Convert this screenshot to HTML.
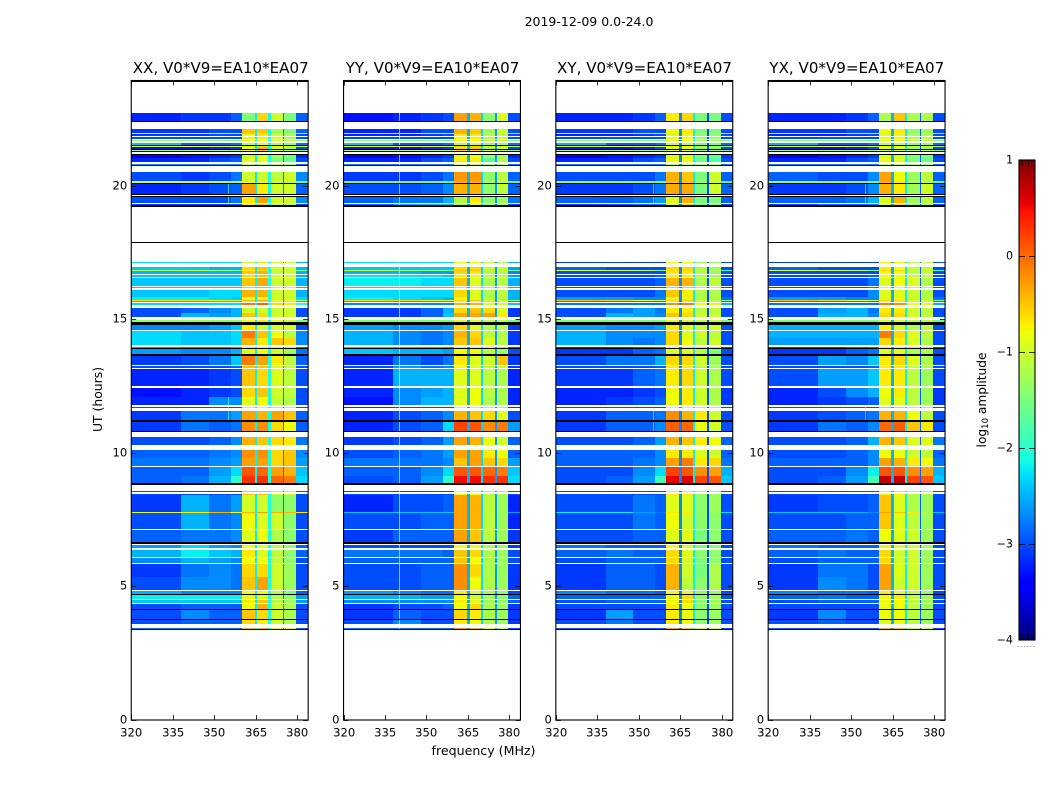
<!DOCTYPE html>
<html>
<head>
<meta charset="utf-8">
<title>2019-12-09 0.0-24.0</title>
<style>
html,body{margin:0;padding:0;background:#fff;}
svg{display:block;}
text{font-family:"DejaVu Sans","Liberation Sans",sans-serif;fill:#000;}
</style>
</head>
<body>
<svg id="fig" xmlns="http://www.w3.org/2000/svg" width="1050" height="800" viewBox="0 0 1050 800">
  <rect x="0" y="0" width="1050" height="800" fill="#fff"/>
  <text x="589" y="26" text-anchor="middle" font-size="12.5">2019-12-09 0.0-24.0</text>
  <text x="220.7" y="73" text-anchor="middle" font-size="15.1">XX, V0*V9=EA10*EA07</text>
  <text x="432.5" y="73" text-anchor="middle" font-size="15.1">YY, V0*V9=EA10*EA07</text>
  <text x="644.5" y="73" text-anchor="middle" font-size="15.1">XY, V0*V9=EA10*EA07</text>
  <text x="856.8" y="73" text-anchor="middle" font-size="15.1">YX, V0*V9=EA10*EA07</text>
  <text x="483.5" y="755" text-anchor="middle" font-size="12.6">frequency (MHz)</text>
  <text transform="translate(102,399.5) rotate(-90)" text-anchor="middle" font-size="12.4">UT (hours)</text>
  <text transform="translate(986,400) rotate(-90)" text-anchor="middle" font-size="12.2">log<tspan font-size="8.5" dy="2">10</tspan><tspan dy="-2"> amplitude</tspan></text>
  <defs>
    <linearGradient id="jetGrad" x1="0" y1="1" x2="0" y2="0"></linearGradient>
  </defs>
  <g id="panels"></g>
  <g id="cbar"></g>
</svg>
<script>
const xTickLabels = [320, 335, 350, 365, 380];
const yTickLabels = [0, 5, 10, 15, 20];
const colorbarTicks = [1, 0, -1, -2, -3, -4];
const freqEdges = [320, 338, 348, 356, 360, 364.6, 365.6, 369.6, 370.4, 374.8, 375.4, 379.6, 384];
const rowTopUT = [22.72,22.12,21.97,21.93,21.82,21.70,21.59,21.48,21.44,21.33,21.14,21.03,20.82,20.52,20.15,20.06,19.59,19.31,
17.15,16.95,16.84,16.80,16.65,16.54,16.20,16.10,15.82,15.73,15.67,15.60,15.41,15.22,14.96,14.78,14.55,14.29,13.97,13.61,13.24,13.13,12.43,12.08,11.72,11.55,11.16,10.58,10.09,9.79,9.44,9.12,8.56,8.46,8.41,7.77,7.73,7.08,6.52,6.35,6.05,5.82,5.34,4.81,4.66,4.46,4.33,4.10,3.73,3.43];
const rowBottomUT = [22.42,21.97,21.93,21.85,21.74,21.67,21.52,21.44,21.33,21.29,21.03,20.88,20.77,20.15,20.09,19.68,19.34,19.27,
17.08,16.84,16.80,16.69,16.57,16.24,16.16,15.82,15.73,15.67,15.64,15.54,15.22,15.07,14.87,14.59,14.29,14.03,13.69,13.28,13.16,12.49,12.08,11.78,11.69,11.22,10.81,10.28,9.79,9.49,9.12,8.86,8.52,8.42,7.77,7.73,7.13,6.65,6.42,6.09,5.86,5.34,4.85,4.70,4.51,4.36,4.14,3.76,3.58,3.39];
const blackLines = [[23.94,23.87],[22.42,22.36],[21.52,21.48],[21.37,21.33],[21.29,21.25],[21.18,21.14],[20.77,20.73],[20.09,20.06],[19.68,19.64],[19.62,19.59],[19.27,19.19],[17.88,17.85],[14.87,14.78],[13.91,13.87],[13.69,13.61],[11.22,11.16],[10.81,10.77],[8.86,8.78],[6.65,6.59],[4.70,4.66],[4.14,4.10],[3.76,3.73],[3.39,3.35]];
const gapLevelsXX = [-2.2,-2.1,-2.8];
const gapLevelsYY = [-2.5,-2.3,-2.6];
const gapLevelsXY = [-2.7,-2.2,-3];
const gapLevelsYX = [-2.5,-2.2,-2.9];
const verticalLines = [[1,340,-0.9,3.39,22.72],[0,355,-1.8,19.3,20.5],[0,355,-2,11.2,12.2],[2,355,-1.9,19.3,20.5],[2,355,-2,10.8,11.6],[3,355,-1.9,19.3,20.5],[3,355,-2.2,11.2,12]];
const levelsXX = [
[-3.2,-3.1,-3.1,-2.9,-1.5,-.6,-1,-1.5,-2.9],
[-3.1,-3.1,-3,-3,-.5,-.5,-1.3,-1.5,-2.9],
[-.8,-.8,-.9,-1,-.5,-.6,-1,-1.2,-1.4],
[-3.1,-3.1,-3,-3,-.8,-.7,-1,-1.2,-3],
[-3,-3,-3,-3,-.9,-.7,-1,-1.3,-3],
[-1.3,-1.4,-1.4,-1.5,-.9,-.8,-1,-1.1,-1.4],
[-2.4,-2.9,-2.9,-2.8,-1.2,-.9,-1.2,-1.4,-2.8],
[-1,-.9,-1,-1,-.9,-.6,-.8,-1,-1.2],
[-3.3,-3.3,-3.2,-3.1,-.8,-.4,-1,-1.3,-3],
[-1.2,-1.2,-1.3,-1.3,-.8,-.5,-1,-1.1,-1.4],
[-3.4,-3.3,-3.2,-3.1,-1.1,-.9,-1.2,-1.5,-3.2],
[-3.2,-3.2,-3,-2.9,-.9,-.9,-1.5,-1.6,-3],
[-2.6,-2.6,-2.6,-2.6,-1,-1,-1,-1.2,-2.8],
[-3,-3.1,-3,-2.8,-1,-1,-1.1,-1,-2.7],
[-.9,-.9,-1,-1.2,-.9,-.8,-.9,-1,-1.6],
[-3.2,-3.1,-3,-2.9,-.3,-.7,-1,-1,-2.9],
[-3,-3,-3,-2.8,-.7,-.3,-1,-1,-2.7],
[-3,-3,-3,-2.9,-.7,-.5,-1.1,-1.2,-3],
[-2.3,-2.3,-2.3,-2.3,-1,-.7,-1,-1,-2.5],
[-2.4,-2.4,-2.5,-2.5,-.6,-.5,-1,-1,-2.5],
[-1.2,-1.1,-1.3,-1.6,-.7,-.6,-1,-1,-1.6],
[-2.5,-2.5,-2.5,-2.5,-.5,-.4,-1.1,-1,-2.5],
[-2.4,-2.4,-2.4,-2.4,-.6,-.5,-1,-1,-2.5],
[-2.4,-2.4,-2.4,-2.4,-.5,-.35,-1,-1,-2.5],
[-2.4,-2.4,-2.4,-2.4,-.5,-.4,-1,-1,-2.5],
[-2.4,-2.4,-2.3,-2.3,-.4,-.4,-1,-1,-2.5],
[-2.2,-2.2,-2.3,-2.4,-.9,-.8,-1,-1,-2.3],
[-.6,-.6,-.8,-.9,-.4,-.3,-.8,-.9,-1.3],
[-2.4,-2.4,-2.4,-2.4,-.8,-.7,-1,-1,-2.5],
[-2.3,-2.3,-2.3,-2.3,-.1,0,-.6,-.7,-2],
[-3,-2.9,-2.7,-2.5,-1,-1,-1,-1,-3],
[-3,-2.5,-2.6,-2.5,-.5,-.6,-1,-1,-3],
[-1.4,-1.4,-1.4,-1.4,-.8,-.7,-.9,-1,-1.5],
[-2.7,-2.7,-2.6,-2.4,-.7,-1,-1,-1,-3],
[-2.3,-2.4,-2.4,-2.3,-.1,-.5,-.8,-1.1,-2.7],
[-2.3,-2.4,-2.4,-2.3,-.4,-.7,-.5,-.6,-2.7],
[-2.6,-2.7,-2.7,-2.5,-.9,-.8,-1,-1.3,-2.8],
[-3.1,-3,-2.8,-2.4,-.1,-.3,-.7,-1.1,-2.9],
[-3,-3,-3,-2.9,-.5,-.5,-1,-1.1,-3],
[-3.2,-3.2,-3.1,-3,-.5,-.6,-.9,-1.1,-3],
[-3.3,-3.2,-3.1,-3,-.6,-.5,-1,-1.1,-3],
[-3.2,-3.2,-2.7,-2.7,-.9,-.8,-1.1,-1.2,-3],
[-3,-3,-3,-3,-.9,-.8,-1.1,-1.2,-3],
[-3.1,-2.8,-2.8,-2.6,-.3,-.4,-.3,-.5,-2.9],
[-3.1,-2.8,-2.9,-2.8,-.2,-.2,-.6,-.8,-2.9],
[-3,-3,-2.9,-2.7,-.4,-.5,-.6,-.7,-2.8],
[-2.9,-2.9,-2.8,-2.7,-.2,-.2,-.6,-.5,-2.7],
[-2.8,-2.8,-2.7,-2.6,-.3,-.3,-.6,-.5,-2.6],
[-2.9,-2.9,-2.6,-2.3,.1,0,-.3,-.4,-2.4],
[-2.9,-2.8,-2.5,-2,.3,.3,0,-.1,-2.3],
[-3,-3,-3,-3,-.5,-.5,-1,-1,-3],
[-3,-3,-3,-3,-.5,-.5,-1,-1,-3],
[-3.1,-2.5,-2.8,-2.6,-1,-1,-1.4,-1.4,-3],
[-.9,-.7,-.4,-.8,-.4,-.3,-.4,-.4,-.7],
[-3,-2.5,-2.8,-2.7,-.8,-.9,-1,-1.4,-3],
[-2.9,-2.8,-2.8,-2.7,-.9,-.8,-1.2,-1.4,-3],
[-2.6,-2.3,-2.6,-2.7,-.8,-.9,-1.1,-1.3,-2.9],
[-2.5,-2.2,-2.4,-2.5,-.7,-.9,-1.1,-1.4,-2.9],
[-2.7,-2.5,-2.6,-2.7,-.8,-.8,-1.1,-1.4,-3],
[-3.1,-2.8,-2.7,-2.8,-.6,-.6,-1,-1.3,-3],
[-3,-2.7,-2.7,-2.8,-.5,-.3,-1,-1.3,-3],
[-2.5,-2.7,-2.7,-2.7,-.8,-.8,-1.2,-1.5,-2.9],
[-2.2,-2.2,-2.2,-2.2,-.9,-.9,-1.2,-1.4,-2.6],
[-2.4,-2.4,-2.4,-2.4,-.7,-.5,-1.2,-1.3,-2.6],
[-3,-2.9,-2.9,-2.9,-.8,-.4,-1,-1.2,-3],
[-3,-2.7,-2.9,-2.9,-.5,-.6,-1,-1.2,-3],
[-3,-2.9,-2.9,-2.9,-.6,-.7,-1,-1.2,-3],
[-2.8,-2.8,-2.8,-2.8,-.4,-.4,-.7,-.8,-2.9]
];
const levelsYY = [
[-3.3,-3.2,-3.1,-3,-.3,-.4,-1.4,-.9,-3],
[-3.2,-3.2,-3,-3,-.4,-.5,-1.3,-1,-3],
[-.7,-.8,-.9,-1.1,-.4,-.5,-.9,-1,-1.5],
[-3.2,-3.2,-3.1,-3,-.7,-.7,-1.2,-1.1,-3],
[-3,-3,-3,-3,-.8,-.7,-1.2,-1.1,-3],
[-1.4,-1.5,-1.5,-1.6,-.8,-.8,-1,-1,-1.5],
[-2.4,-2.9,-2.9,-2.8,-1.1,-.9,-1.5,-1.3,-2.8],
[-.8,-.8,-.9,-1,-.6,-.6,-.9,-.9,-1.2],
[-3.3,-3.3,-3.2,-3.1,-.6,-.5,-1.2,-1,-3],
[-1.1,-1.1,-1.2,-1.3,-.6,-.6,-1,-1,-1.4],
[-3.4,-3.3,-3.2,-3.1,-.9,-.8,-1.3,-1.2,-3.2],
[-3.2,-3.2,-3,-2.9,-.7,-.7,-1.7,-1.2,-3],
[-2.7,-2.7,-2.7,-2.7,-.9,-.9,-1.2,-1.1,-2.8],
[-3.1,-3.1,-3,-2.8,-.25,-.25,-1.4,-1.1,-2.9],
[-1.5,-1.5,-1.6,-1.7,-.4,-.4,-1.1,-1,-1.8],
[-3,-3,-2.9,-2.7,-.4,-.4,-1.4,-1.1,-2.9],
[-2.9,-2.8,-2.8,-2.5,-1.2,-.7,-1.4,-1.3,-2.8],
[-2.8,-2.5,-2.4,-2.4,-1.2,-.9,-1.4,-1.3,-3],
[-2.3,-2.3,-2.3,-2.3,-.8,-.8,-1.1,-1.2,-2.5],
[-2.4,-2.4,-2.4,-2.4,-.6,-.6,-1.1,-1.1,-2.6],
[-1.1,-1.3,-1.4,-1.6,-.5,-.5,-1,-1,-1.6],
[-2.5,-2.5,-2.6,-2.6,-.6,-.7,-1.2,-1.2,-2.7],
[-2.3,-2.3,-2.3,-2.4,-.7,-.9,-1.2,-1.2,-2.6],
[-2.2,-2.2,-2.3,-2.3,-.5,-.9,-1.2,-1.1,-2.5],
[-2.3,-2.3,-2.3,-2.3,-.6,-.9,-1.2,-1.1,-2.5],
[-2.3,-2.3,-2.3,-2.3,-.6,-.9,-1.2,-1.1,-2.5],
[-2.2,-2.3,-2.4,-2.5,-.8,-.9,-1.2,-1.2,-2.5],
[-.6,-.6,-.8,-.9,-.6,-.5,-.9,-1,-1.3],
[-2.5,-2.6,-2.6,-2.6,-.7,-.8,-1.2,-1.2,-2.7],
[-2.7,-2.7,-2.7,-2.7,-.4,-.4,-.9,-1,-2.4],
[-3.1,-3.1,-2.9,-2.5,-.6,-.5,-.6,-.9,-3.1],
[-3.1,-3.1,-2.9,-2.4,-.3,-.3,-.3,-.7,-3.1],
[-1.5,-1.5,-1.5,-1.5,-.9,-.9,-1.1,-1.1,-1.6],
[-2.6,-2.7,-2.7,-2.6,-.6,-.9,-1.2,-1.2,-3.1],
[-2.5,-2.7,-2.8,-2.7,-.4,-.6,-1.1,-1.2,-3.1],
[-2.5,-2.7,-2.8,-2.7,-.5,-.5,-.9,-1.1,-3.1],
[-2.4,-2.5,-2.5,-2.6,-.8,-.8,-1.1,-1.3,-3],
[-3.2,-2.8,-3,-2.8,-.7,-.9,-1,-.5,-3.1],
[-3,-2.6,-2.8,-2.7,-.8,-.9,-1.1,-1.1,-3.1],
[-3.2,-2.5,-2.5,-2.5,-.9,-.9,-1.1,-1.2,-3.2],
[-3.2,-2.7,-2.6,-2.5,-.9,-.8,-1.1,-1.2,-3.2],
[-3.3,-2.7,-2.5,-2.5,-.9,-.8,-1.2,-1.2,-3.2],
[-3.1,-3,-3,-3,-.9,-.9,-1.2,-1.2,-3.1],
[-3.2,-3,-2.9,-2.7,-.4,-.5,-.6,-.9,-3],
[-3.2,-3,-2.9,-2.3,.2,.1,-.2,-.1,-2.6],
[-3.1,-3,-2.9,-2.6,-.3,-.4,-.8,-1,-2.9],
[-3,-2.9,-2.8,-2.6,-.3,-.3,-.7,-.8,-2.9],
[-2.8,-2.8,-2.8,-2.7,-.5,-.3,-.5,-.6,-2.6],
[-2.9,-2.9,-2.7,-2.3,.1,.1,0,-.1,-2.4],
[-3,-2.9,-2.6,-2,.5,.5,.3,.3,-2.3],
[-3,-3,-3,-3,-.8,-.8,-1.2,-1.2,-3],
[-3,-3,-3,-3,-.8,-.8,-1.2,-1.2,-3],
[-3.2,-3,-3,-2.9,-.3,-.4,-1.1,-1.3,-3.2],
[-2.4,-2.4,-2.4,-2.4,-.3,-.4,-1.1,-1.3,-2.6],
[-3,-3,-2.9,-2.9,-.3,-.4,-1.1,-1.3,-3.2],
[-3.1,-2.9,-2.9,-2.9,-.3,-.5,-1.1,-1.3,-3.1],
[-3,-3,-3,-3,-.8,-.8,-1.2,-1.3,-3.1],
[-2.8,-2.8,-2.8,-2.9,-.5,-.6,-1.2,-1.3,-3],
[-2.9,-2.9,-2.9,-2.9,-.5,-.8,-1.2,-1.3,-3],
[-3,-3,-2.9,-2.9,-.2,-.6,-1.2,-1.3,-3.1],
[-3,-3,-2.9,-2.9,-.2,-.8,-1.2,-1.3,-3.1],
[-2.6,-2.7,-2.8,-2.8,-.7,-1,-1.3,-1.4,-3],
[-2.5,-2.5,-2.6,-2.6,-.8,-1,-1.3,-1.4,-2.9],
[-2.7,-2.7,-2.7,-2.7,-.7,-.9,-1.3,-1.4,-2.9],
[-3.1,-3,-3,-2.9,-.8,-.6,-1.2,-1.3,-3.1],
[-3.1,-2.9,-3,-3,-.6,-.7,-1.2,-1.3,-3.1],
[-3,-2.7,-3,-3,-.7,-.8,-1.2,-1.3,-3.1],
[-2.8,-2.8,-2.8,-2.8,-.2,-.4,-.8,-1,-3]
];
const levelsXY = [
[-3.2,-3.2,-3.1,-2.9,-.7,-.6,-1.5,-1.5,-3],
[-3.1,-3.1,-3,-3,-.8,-.7,-1.5,-1.5,-3],
[-.8,-.8,-.9,-1,-.7,-.7,-1.2,-1.3,-1.4],
[-3.2,-3.2,-3.1,-3,-.9,-.8,-1.4,-1.4,-3],
[-3,-3,-3,-3,-.9,-.8,-1.4,-1.4,-3],
[-1.4,-1.5,-1.5,-1.6,-.9,-.9,-1.3,-1.3,-1.5],
[-2.5,-2.9,-2.9,-2.8,-1,-1,-1.5,-1.5,-2.8],
[-1,-.9,-1,-1,-.8,-.8,-1.2,-1.3,-1.3],
[-3.3,-3.3,-3.2,-3,-.9,-.8,-1.4,-1.5,-3],
[-1.2,-1.2,-1.3,-1.3,-.9,-.8,-1.3,-1.3,-1.5],
[-3.4,-3.3,-3.2,-3.1,-1,-1,-1.5,-1.6,-3.1],
[-3.2,-3.2,-3,-2.9,-.8,-.8,-1.6,-1.8,-3],
[-2.7,-2.7,-2.7,-2.7,-1,-1,-1.2,-1.2,-2.8],
[-3,-3,-3,-2.8,-.4,-.5,-1.5,-1,-2.9],
[-1.3,-1.3,-1.4,-1.5,-.5,-.5,-1.2,-1,-1.8],
[-3.1,-3.1,-3,-2.8,-.35,-.35,-1.5,-1,-2.9],
[-2.9,-2.9,-2.8,-2.6,-.9,-.4,-1.5,-1.5,-2.9],
[-3,-2.9,-2.8,-2.8,-1,-.6,-1.5,-1.4,-3],
[-3.1,-3.1,-3.1,-3.1,-.8,-.8,-1.3,-1.3,-3],
[-2.9,-3,-3,-3,-.6,-.6,-1.2,-1.3,-3],
[-1,-1,-1.2,-1.5,-.6,-.6,-1.1,-1.2,-1.8],
[-3,-3,-3,-3,-.7,-.7,-1.2,-1.3,-3],
[-3,-3,-3,-2.9,-.7,-.7,-1.2,-1.3,-3],
[-3,-3,-3,-2.9,-.4,-.4,-1.2,-1.1,-3],
[-3,-3,-3,-2.9,-.5,-.5,-1.2,-1.2,-3],
[-3,-3,-3,-2.8,-.5,-.7,-1.2,-1.2,-3],
[-2.6,-2.6,-2.7,-2.7,-.9,-.9,-1.2,-1.2,-2.8],
[-.5,-.6,-.8,-1,-.6,-.5,-1,-1.1,-1.5],
[-2.8,-2.8,-2.8,-2.8,-.9,-.9,-1.2,-1.2,-2.8],
[-2.8,-2.8,-2.8,-2.8,-.2,-.1,-.8,-.9,-2.5],
[-3,-2.8,-2.6,-2.8,-.7,-.7,-1.1,-1.1,-3],
[-3,-2.5,-2.6,-2.7,-.5,-.6,-1,-1,-3],
[-1.5,-1.5,-1.5,-1.5,-.9,-.9,-1.1,-1.1,-1.6],
[-2.6,-2.7,-2.7,-2.6,-.7,-.9,-1.1,-1,-3],
[-2.5,-2.7,-2.7,-2.7,-.6,-.9,-1,-1.1,-3],
[-2.5,-2.7,-2.8,-2.7,-.6,-.8,-1.1,-1,-3],
[-3.1,-3.1,-2.9,-2.8,-.9,-.9,-1.2,-1.5,-3],
[-3,-2.8,-2.8,-2.5,-.6,-.6,-1,-1.3,-3],
[-3,-3,-3,-2.9,-.7,-.7,-1.2,-1.3,-3],
[-3.1,-3.1,-2.9,-2.8,-.7,-.6,-1,-1.2,-3],
[-3.2,-3.2,-3.1,-3,-.8,-.7,-1,-1.2,-3.1],
[-3.2,-3.1,-3,-2.9,-.8,-.7,-1,-1.2,-3.1],
[-3,-3,-3,-3,-.8,-.8,-1.1,-1.2,-3],
[-3.1,-2.9,-2.9,-2.8,-.2,-.4,-.7,-1,-3],
[-3.1,-2.9,-2.9,-2.7,.05,0,-.8,-1,-3],
[-3,-3,-2.9,-2.6,-.4,-.5,-.7,-.8,-2.9],
[-2.9,-2.9,-2.9,-2.7,-.7,-.7,-.9,-1,-2.9],
[-2.9,-2.9,-2.8,-2.7,-.3,-.1,-.7,-.6,-2.8],
[-3,-3,-2.7,-2.3,.2,.1,-.2,-.3,-2.5],
[-3,-2.9,-2.6,-1.9,.55,.6,.2,.1,-2.4],
[-3,-3,-3,-3,-.7,-.7,-1.3,-1.3,-3],
[-3,-3,-3,-3,-.7,-.7,-1.3,-1.3,-3],
[-3,-3,-2.8,-2.9,-.9,-.9,-1.4,-1.3,-3],
[-2.2,-2.2,-2.6,-2.8,-.7,-.7,-1.4,-1.3,-2.3],
[-3,-3,-2.8,-2.9,-.8,-1,-1.4,-1.4,-3],
[-3,-3,-2.9,-2.9,-.9,-.9,-1.5,-1.4,-3],
[-2.8,-2.9,-2.9,-2.9,-.8,-.9,-1.5,-1.4,-3],
[-2.9,-2.8,-2.9,-2.9,-.6,-.9,-1.4,-1.4,-3],
[-3,-2.9,-2.9,-2.9,-.6,-1,-1.5,-1.4,-3],
[-3.1,-2.9,-2.9,-3,-.4,-1,-1.5,-1.2,-3],
[-3.1,-2.9,-2.9,-3,-.4,-1.1,-1.4,-1.2,-3],
[-2.7,-2.8,-2.8,-2.9,-.8,-.9,-1.4,-1.4,-3],
[-2.9,-2.9,-2.9,-2.9,-.8,-.6,-1.4,-1.3,-3],
[-3,-2.9,-2.9,-2.9,-.8,-.6,-1.4,-1.3,-3],
[-3,-3,-3,-3,-.7,-.8,-1.4,-1.3,-3],
[-3.1,-2.6,-3,-3,-.7,-.8,-1.4,-1.3,-3],
[-3,-2.8,-3,-3,-.7,-.8,-1.4,-1.3,-3],
[-2.9,-2.9,-2.9,-2.9,-.3,-.5,-1,-1,-3]
];
const levelsYX = [
[-3.2,-3.2,-3.1,-2.9,-1.2,-.5,-1.2,-1.2,-3],
[-3.1,-3.1,-3,-3,-.8,-.7,-1.4,-1.3,-3],
[-.8,-.8,-.9,-1,-.7,-.7,-1.1,-1.1,-1.4],
[-3.2,-3.2,-3.1,-3,-.9,-.8,-1.2,-1.2,-3],
[-3,-3,-3,-3,-.9,-.8,-1.2,-1.2,-3],
[-1.4,-1.5,-1.5,-1.6,-.9,-.9,-1.1,-1.1,-1.5],
[-2.5,-2.9,-2.9,-2.8,-1.1,-1.1,-1.4,-1.3,-2.8],
[-1,-.9,-1,-1,-.8,-.8,-1.1,-1.1,-1.3],
[-3.3,-3.3,-3.2,-3,-.9,-.9,-1.3,-1.3,-3],
[-1.2,-1.2,-1.3,-1.3,-.9,-.9,-1.1,-1.1,-1.5],
[-3.4,-3.3,-3.2,-3.1,-1,-1,-1.4,-1.5,-3.1],
[-3.2,-3.2,-3,-2.9,-.8,-.9,-1.5,-1.6,-3],
[-2.7,-2.7,-2.7,-2.7,-1,-1,-1.2,-1.2,-2.8],
[-2.9,-3,-3,-2.7,-.3,-.8,-1.3,-1.1,-2.9],
[-1.3,-1.3,-1.4,-1.6,-.4,-.7,-1.2,-1.1,-1.8],
[-3.1,-3.1,-3,-2.7,-.4,-.7,-1.3,-1,-2.9],
[-2.9,-2.9,-2.8,-2.5,-.9,-.4,-1.3,-1.1,-2.9],
[-3,-2.8,-2.8,-2.7,-1,-.6,-1.3,-1.2,-3],
[-3.1,-3.1,-3.1,-3.1,-.7,-.7,-1.1,-1.1,-3],
[-2.9,-3,-3,-3,-.7,-.8,-1.1,-1.1,-3],
[-1,-1,-1.2,-1.5,-.6,-.6,-1,-1,-1.8],
[-3,-3,-3,-3,-.8,-.8,-1.1,-1.1,-3],
[-3,-3,-3,-2.9,-.8,-.8,-1.1,-1.1,-3],
[-3,-3,-3,-2.8,-.9,-.8,-.9,-1.2,-3],
[-3,-3,-3,-2.8,-.9,-.8,-1.1,-1.1,-3],
[-3,-3,-3,-2.7,-.9,-.9,-1,-1.2,-3],
[-2.6,-2.6,-2.7,-2.7,-.9,-.9,-1.1,-1.1,-2.8],
[-.5,-.6,-.8,-1,-.6,-.6,-.9,-1,-1.5],
[-2.8,-2.8,-2.8,-2.8,-.9,-.9,-1.1,-1.1,-2.8],
[-2.8,-2.8,-2.8,-2.8,-.1,-.2,-.8,-.9,-2.5],
[-3,-2.6,-2.5,-2.8,-.7,-.7,-1,-1.1,-3],
[-3,-2.5,-2.5,-2.7,-.6,-.6,-.9,-1.1,-3],
[-1.5,-1.5,-1.5,-1.5,-.9,-.9,-1.1,-1.1,-1.6],
[-2.5,-2.5,-2.5,-2.5,-.7,-1,-1.2,-1.1,-3],
[-2.5,-2.5,-2.5,-2.5,-.1,-.6,-.9,-1.1,-3],
[-2.6,-2.6,-2.6,-2.6,-.6,-.7,-.9,-1.2,-3],
[-3.1,-3.1,-2.9,-2.8,-.9,-.9,-1.2,-1.2,-3],
[-3,-2.6,-2.7,-2.4,-.7,-.6,-.9,-1.2,-3],
[-3,-3,-3,-2.9,-.7,-.7,-1.1,-1.2,-3],
[-3,-2.6,-2.6,-2.4,-.7,-.7,-1.1,-1.3,-3],
[-3.2,-3,-2.7,-2.5,-.8,-.7,-1.1,-1.3,-3.1],
[-3.2,-3.1,-3,-2.9,-.9,-.9,-1.1,-1.3,-3.1],
[-3,-3,-3,-3,-.5,-.6,-1.1,-1.2,-3],
[-3.1,-3,-2.9,-2.8,-.4,-.4,-.8,-1.1,-3],
[-3.1,-2.8,-2.9,-2.7,0,.05,-.5,-.7,-3],
[-3,-3,-2.9,-2.5,-.4,-.5,-.9,-.9,-2.8],
[-3,-3,-2.9,-2.7,-.8,-.8,-1,-1.1,-2.9],
[-2.9,-2.9,-2.9,-2.7,-.3,-.4,-.7,-.8,-2.8],
[-3,-3,-2.7,-2.2,.1,.1,-.2,-.3,-2.5],
[-3,-2.9,-2.6,-1.9,.7,.7,.2,.1,-2.4],
[-3,-3,-3,-3,-.7,-.7,-1.1,-1.2,-3],
[-3,-3,-3,-3,-.7,-.7,-1.1,-1.2,-3],
[-3.1,-3,-3,-2.9,-.5,-.9,-1.2,-1.3,-3],
[-2.4,-2.4,-2.5,-2.7,-.3,-.5,-.7,-1.2,-2.4],
[-3,-3,-2.9,-2.9,-.5,-.9,-1.1,-1.3,-3],
[-2.9,-2.9,-2.8,-2.9,-.8,-.9,-1,-1.3,-3],
[-2.8,-2.9,-2.9,-2.9,-.7,-.9,-1,-1.3,-3],
[-2.9,-2.8,-2.9,-2.9,-.6,-1,-1,-1.3,-3],
[-3,-2.9,-2.9,-2.9,-.6,-1,-1,-1.3,-3],
[-3.1,-2.8,-2.8,-3,-.3,-.9,-1,-1.3,-3],
[-3.1,-2.7,-2.8,-3,-.3,-1,-1,-1.3,-3],
[-2.7,-2.8,-2.8,-2.9,-.7,-.9,-1.1,-1.4,-3],
[-2.9,-2.8,-2.9,-2.9,-.8,-.7,-1.1,-1.3,-3],
[-3,-2.9,-2.9,-2.9,-.8,-.8,-1.1,-1.3,-3],
[-3,-3,-3,-3,-.8,-.8,-1.1,-1.3,-3],
[-3.1,-2.7,-3,-3,-.8,-.8,-1.1,-1.3,-3],
[-3,-2.9,-3,-3,-.9,-.8,-1.1,-1.3,-3],
[-2.9,-2.9,-2.9,-2.9,-.4,-.5,-1,-1,-3]
];
const panelKeys = ['xx', 'yy', 'xy', 'yx'];
const panelLevels = [levelsXX, levelsYY, levelsXY, levelsYX];
const panelGaps = [gapLevelsXX, gapLevelsYY, gapLevelsXY, gapLevelsYX];

const SVGNS = 'http://www.w3.org/2000/svg';
const AX_W = 176.9, AX_STEP = 212.3, AX_LEFT = 131.25;
const AX_TOP = 80.5, AX_BOTTOM = 720;
function sxOf(p) { const x0 = AX_LEFT + p * AX_STEP; return f => x0 + (f - 320) * AX_W / 64; }
function sy(ut) { return 719.5 - ut * 26.7; }
function cbY(v) { return 640 - (v + 4) * 96; }
function lerp(stops, t) {
  for (let i = 1; i < stops.length; i++) {
    if (t <= stops[i][0]) {
      const a = stops[i - 1], b = stops[i];
      return a[1] + (b[1] - a[1]) * (t - a[0]) / (b[0] - a[0]);
    }
  }
  return stops[stops.length - 1][1];
}
function jet(t) {
  t = Math.max(0, Math.min(1, t));
  const r = lerp([[0,0],[.35,0],[.66,1],[.89,1],[1,.5]], t);
  const g = lerp([[0,0],[.125,0],[.375,1],[.64,1],[.91,0],[1,0]], t);
  const b = lerp([[0,.5],[.11,1],[.34,1],[.65,0],[1,0]], t);
  return 'rgb(' + Math.round(r*255) + ',' + Math.round(g*255) + ',' + Math.round(b*255) + ')';
}
function levelColor(v) { return jet((v + 4) / 5); }
function mk(tag, attrs, parent) {
  const el = document.createElementNS(SVGNS, tag);
  for (const k in attrs) el.setAttribute(k, attrs[k]);
  parent.appendChild(el);
  return el;
}

const panelsG = document.getElementById('panels');
panelKeys.forEach(function (key, p) {
  const sx = sxOf(p);
  const g = mk('g', {}, panelsG);
  
  
  const levels = panelLevels[p];
  const gaps = panelGaps[p];
  rowTopUT.forEach(function (top, r) {
    const vals = levels[r];
    const full = [vals[0], vals[1], vals[2], vals[3], vals[4], gaps[0], vals[5], gaps[1], vals[6], gaps[2], vals[7], vals[8]];
    const y0 = Math.round(sy(top));
    const y1 = Math.max(y0 + 1, Math.round(sy(rowBottomUT[r])));
    full.forEach(function (v, c) {
      const x0 = Math.round(sx(freqEdges[c]));
      const x1 = Math.round(sx(freqEdges[c + 1]));
      const cell = mk('rect', {x: x0, y: y0, width: x1 - x0, height: y1 - y0, fill: levelColor(v), 'shape-rendering': 'crispEdges'}, g);
      
      
    });
  });
  verticalLines.forEach(function (line) {
    if (line[0] !== p) return;
    const x = Math.round(sx(line[1]));
    rowTopUT.forEach(function (top, r) {
      const bottom = rowBottomUT[r];
      if (top > line[4] || bottom < line[3]) return;
      const y0 = Math.round(sy(top));
      const y1 = Math.max(y0 + 1, Math.round(sy(bottom)));
      const seg = mk('rect', {x: x, y: y0, width: 1, height: y1 - y0, fill: levelColor(line[2]), opacity: 0.75, 'shape-rendering': 'crispEdges'}, g);
      
      
    });
  });
  const xa = sx(320), xb = sx(384);
  blackLines.forEach(function (bl) {
    const y0 = Math.round(sy(bl[0]));
    const y1 = Math.max(y0 + 1, Math.round(sy(bl[1])));
    const line = mk('rect', {x: Math.round(xa), y: y0, width: Math.round(xb) - Math.round(xa), height: y1 - y0, fill: '#000', 'shape-rendering': 'crispEdges'}, g);
    
    
  });
  const frame = mk('rect', {x: xa, y: AX_TOP, width: AX_W, height: AX_BOTTOM - AX_TOP, fill: 'none', stroke: '#000', 'stroke-width': 1.1}, g);
  
  
  xTickLabels.forEach(function (f) {
    const x = Math.round(sx(f)) + 0.5;
    const t1 = mk('line', {x1: x, x2: x, y1: AX_BOTTOM, y2: AX_BOTTOM - 5, stroke: '#000', 'stroke-width': 0.8}, g);
    
    
    const t2 = mk('line', {x1: x, x2: x, y1: AX_TOP, y2: AX_TOP + 5, stroke: '#000', 'stroke-width': 0.8}, g);
    
    
    const lab = mk('text', {x: x - 0.3, y: 736.5, 'text-anchor': 'middle', 'font-size': 11.6}, g);
    lab.textContent = String(f);
    
    
  });
  yTickLabels.forEach(function (u) {
    const y = Math.round(sy(u)) + 0.5;
    const t1 = mk('line', {x1: xa, x2: xa + 5, y1: y, y2: y, stroke: '#000', 'stroke-width': 0.8}, g);
    
    
    const t2 = mk('line', {x1: xb, x2: xb - 5, y1: y, y2: y, stroke: '#000', 'stroke-width': 0.8}, g);
    
    
    const lab = mk('text', {x: xa - 4, y: y + 3, 'text-anchor': 'end', 'font-size': 11.6}, g);
    lab.textContent = String(u);
    
    
  });
});

const grad = document.getElementById('jetGrad');
[0,.11,.125,.34,.35,.375,.5,.64,.65,.66,.89,.91,1].forEach(function (s) {
  mk('stop', {offset: s, 'stop-color': jet(s)}, grad);
});
const cb = document.getElementById('cbar');
const CB_X = 1019, CB_W = 16;
const cbBody = mk('rect', {x: CB_X, y: cbY(1), width: CB_W, height: cbY(-4) - cbY(1), fill: 'url(#jetGrad)', stroke: '#000', 'stroke-width': 1.1}, cb);


colorbarTicks.forEach(function (v) {
  const y = Math.round(cbY(v)) + (v === 1 || v === -4 ? 0 : 0.5);
  const a = mk('line', {x1: CB_X, x2: CB_X + 6, y1: y, y2: y, stroke: '#000', 'stroke-width': 0.8}, cb);
  
  
  const b = mk('line', {x1: CB_X + CB_W - 6, x2: CB_X + CB_W, y1: y, y2: y, stroke: '#000', 'stroke-width': 0.8}, cb);
  
  
  const lab = mk('text', {x: 1013, y: y + (v === 1 ? 3.5 : v === -4 ? 3.5 : 3), 'text-anchor': 'end', 'font-size': 11.1}, cb);
  lab.textContent = v < 0 ? '\u2212' + Math.abs(v) : String(v);
  
  
});
[0.2, 0.4, 0.6, 0.8].forEach(function (frac) {
  const x = CB_X + frac * CB_W;
  const a = mk('line', {x1: x, x2: x, y1: cbY(1), y2: cbY(1) + 6, stroke: '#000', 'stroke-width': 0.8}, cb);
  
  
  const b = mk('line', {x1: x, x2: x, y1: cbY(-4), y2: cbY(-4) - 6, stroke: '#000', 'stroke-width': 0.8}, cb);
  
  
});
const dots = mk('line', {x1: 1017.5, x2: 1035, y1: 646.5, y2: 646.5, stroke: '#888', 'stroke-width': 1, 'stroke-dasharray': '1 2.2'}, cb);


</script>
</body>
</html>
